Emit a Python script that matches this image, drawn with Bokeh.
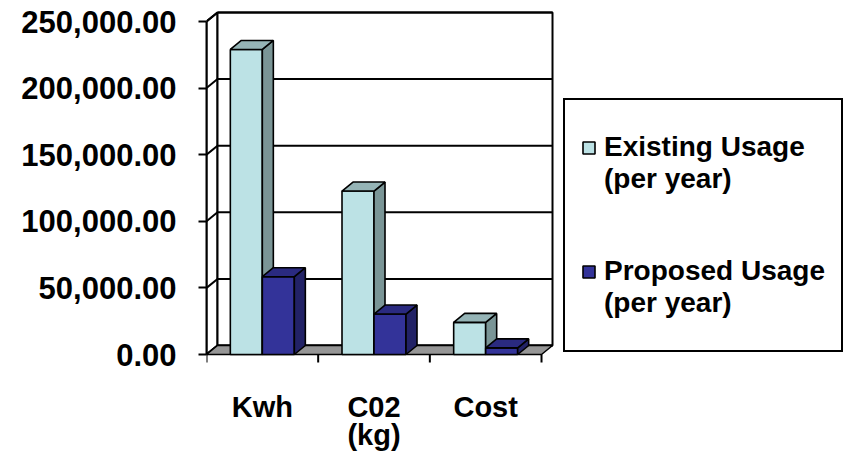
from bokeh.plotting import figure
from bokeh.models import FixedTicker, NumeralTickFormatter, Legend, LegendItem, Range1d
from bokeh.core.properties import value
from bokeh.embed import file_html
from bokeh.resources import INLINE

# ---- data ----
categories = ["Kwh", "C02\n(kg)", "Cost"]
series_names = ["Existing Usage\n(per year)", "Proposed Usage\n(per year)"]
existing = [229000, 122700, 24100]
proposed = [58400, 30400, 5000]
y_ticks = [0, 50000, 100000, 150000, 200000, 250000]

# ---- style / layout ----
FONT = "Liberation Sans"
W, H = 846, 458
LEFT, TOP = 206, 0
ZERO_PX = 354                   # canvas y of the value 0
CAT_PX = 111.67                 # pixels per category
PX_PER_UNIT = 333 / 250000      # pixels per value unit
frame_w = W - LEFT
x_end = frame_w / CAT_PX
y_start = -(H - ZERO_PX) / PX_PER_UNIT
y_end = (ZERO_PX - TOP) / PX_PER_UNIT
DX = 11 / CAT_PX                # depth offset (x)
DY = 9 / PX_PER_UNIT            # depth offset (y)
BAR_W = 32 / CAT_PX
TICK_LEN = 8 / PX_PER_UNIT
LABEL_BASE = 52 / PX_PER_UNIT   # first label line below axis
LABEL_STEP = 28 / PX_PER_UNIT
ymax = y_ticks[-1]
ncat = len(categories)

ex_front, ex_top, ex_side = "#BCE2E5", "#95B4B6", "#7A9596"
pr_front, pr_top, pr_side = "#333399", "#2A2A80", "#222266"

p = figure(width=W, height=H, output_backend="svg", toolbar_location=None,
           x_range=Range1d(0, x_end), y_range=Range1d(y_start, y_end),
           x_axis_location=None,
           min_border_left=LEFT, min_border_right=0, min_border_top=TOP,
           min_border_bottom=0)
p.outline_line_color = None
for g in p.grid:
    g.visible = False
p.background_fill_color = "white"

# walls
p.patch([0, 0, DX, DX], [0, ymax, ymax + DY, DY], fill_color="white",
        line_color="black", line_width=2)
p.quad(left=[DX], right=[ncat + DX], bottom=[DY], top=[ymax + DY],
       fill_color="white", line_color="black", line_width=2)
# gridlines
p.segment(x0=[DX] * len(y_ticks), y0=[t + DY for t in y_ticks],
          x1=[ncat + DX] * len(y_ticks), y1=[t + DY for t in y_ticks],
          line_color="black", line_width=2)
p.segment(x0=[0] * len(y_ticks), y0=y_ticks,
          x1=[DX] * len(y_ticks), y1=[t + DY for t in y_ticks],
          line_color="black", line_width=2)
# floor
p.patch([0, ncat, ncat + DX, DX], [0, 0, DY, DY], fill_color="#969696",
        line_color="black", line_width=1.5)
# category boundary ticks
p.segment(x0=list(range(ncat + 1)), y0=[0] * (ncat + 1),
          x1=list(range(ncat + 1)), y1=[-TICK_LEN] * (ncat + 1),
          line_color="black", line_width=2)

# category labels
lx, ly, lt = [], [], []
for i, c in enumerate(categories):
    for j, line in enumerate(c.split("\n")):
        lx.append(i + 0.5)
        ly.append(-LABEL_BASE - j * LABEL_STEP)
        lt.append(line)
p.text(x=lx, y=ly, text=lt, text_align="center", text_baseline="alphabetic",
       text_font=value(FONT), text_font_style="bold", text_font_size="29px",
       text_color="black")


def bars(values, offset, front, top, side):
    lefts = [i + 0.5 + offset for i in range(len(values))]
    rights = [l + BAR_W for l in lefts]
    fr = p.quad(left=lefts, right=rights, bottom=[0] * len(values), top=values,
                fill_color=front, line_color="black", line_width=1.6)
    p.patches(xs=[[r, r + DX, r + DX, r] for r in rights],
              ys=[[0, DY, v + DY, v] for v in values],
              fill_color=side, line_color="black", line_width=1.6)
    p.patches(xs=[[l, r, r + DX, l + DX] for l, r in zip(lefts, rights)],
              ys=[[v, v, v + DY, v + DY] for v in values],
              fill_color=top, line_color="black", line_width=1.6)
    return fr


r_ex = bars(existing, -BAR_W, ex_front, ex_top, ex_side)
r_pr = bars(proposed, 0, pr_front, pr_top, pr_side)

# invisible renderer for text-only / spacer legend rows
r_blank = p.quad(left=[], right=[], bottom=[], top=[], fill_alpha=0, line_alpha=0)

# y axis
ya = p.yaxis[0]
ya.ticker = FixedTicker(ticks=y_ticks)
ya.formatter = NumeralTickFormatter(format="0,0.00")
ya.bounds = (0, ymax)
ya.axis_line_width = 2
ya.major_tick_line_width = 2
ya.major_tick_out = 8
ya.major_tick_in = 0
ya.minor_tick_out = 0
ya.minor_tick_in = 0
ya.major_label_standoff = 22
ya.major_label_text_font = FONT
ya.major_label_text_font_style = "bold"
ya.major_label_text_font_size = "31px"
ya.major_label_text_color = "black"

# legend: first line of each series carries the swatch
GAP_ROWS = 4
items = [LegendItem(label="", renderers=[r_blank])]
for k, (name, rend) in enumerate(zip(series_names, [r_ex, r_pr])):
    first, rest = name.split("\n", 1)
    items.append(LegendItem(label=first, renderers=[rend]))
    items.append(LegendItem(label=rest, renderers=[r_blank]))
    if k == 0:
        items += [LegendItem(label="", renderers=[r_blank]) for _ in range(GAP_ROWS)]
items.append(LegendItem(label="", renderers=[r_blank]))

legend = Legend(items=items, location=(357, 106))
legend.border_line_color = "black"
legend.border_line_width = 2
legend.border_line_alpha = 1
legend.background_fill_color = "white"
legend.background_fill_alpha = 1
legend.label_text_font = FONT
legend.label_text_font_style = "bold"
legend.label_text_font_size = "28px"
legend.label_text_color = "black"
legend.label_height = 15
legend.glyph_width = 15
legend.glyph_height = 15
legend.label_standoff = 8
legend.padding = 16
legend.spacing = 0
p.add_layout(legend)

open("out.html", "w").write(file_html(p, INLINE))
